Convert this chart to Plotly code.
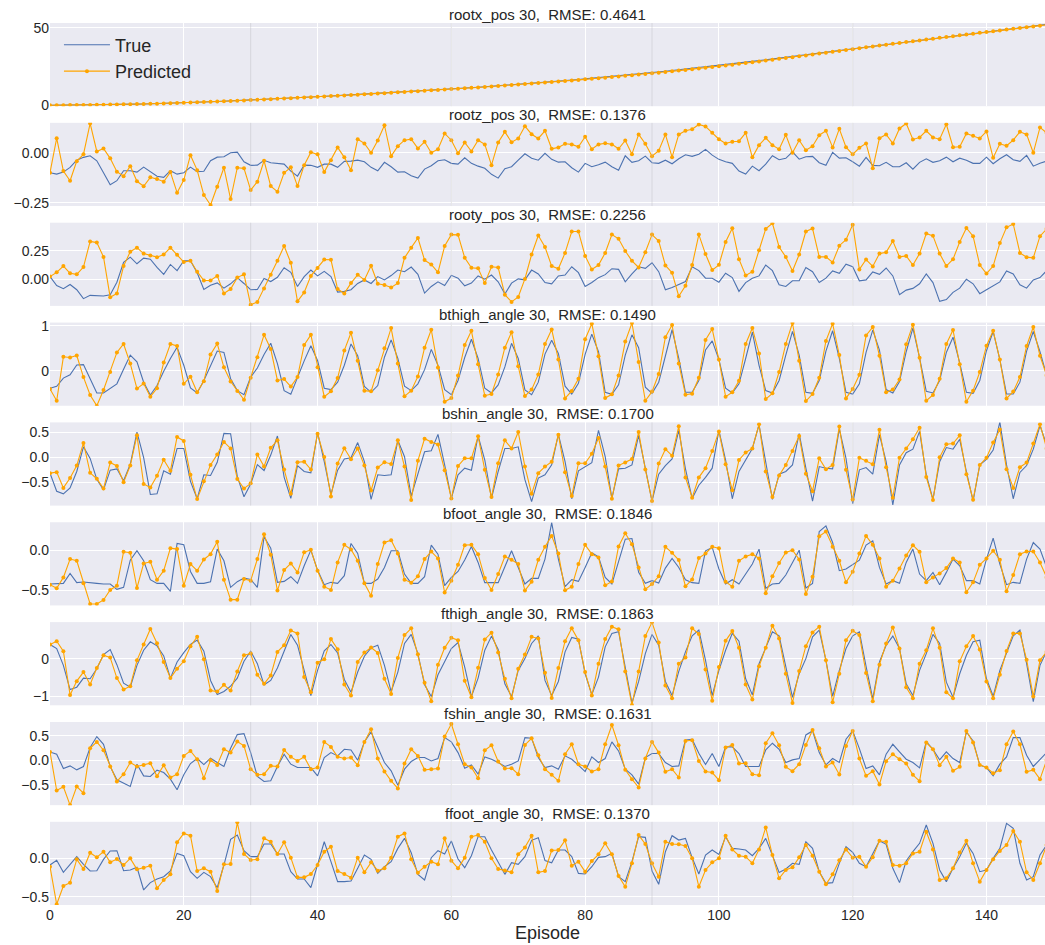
import plotly.graph_objects as go
from plotly.subplots import make_subplots

# ---------------- data ----------------
episodes = list(range(150))

variable_names = ["rootx_pos", "rootz_pos", "rooty_pos", "bthigh_angle", "bshin_angle",
                  "bfoot_angle", "fthigh_angle", "fshin_angle", "ffoot_angle"]
horizon_label = "30"
rmse_values = ["0.4641", "0.1376", "0.2256", "0.1490", "0.1700",
               "0.1846", "0.1863", "0.1631", "0.1370"]
episode_boundaries = [30, 60, 90, 120]

rootx_true = [
    0, 0.03, 0.06, 0.1, 0.14, 0.19, 0.24, 0.3, 0.36, 0.43, 0.5, 0.58, 0.66, 0.75, 0.85, 0.95, 1.06, 1.18, 1.31, 1.45,
    1.6, 1.76, 1.92, 2.09, 2.26, 2.44, 2.62, 2.8, 2.99, 3.18, 3.37, 3.57, 3.77, 3.97, 4.18, 4.39, 4.61, 4.83, 5.05, 5.28,
    5.51, 5.74, 5.97, 6.2, 6.44, 6.68, 6.92, 7.16, 7.41, 7.66, 7.91, 8.16, 8.41, 8.67, 8.93, 9.19, 9.45, 9.72, 9.99, 10.26,
    10.53, 10.81, 11.09, 11.38, 11.67, 11.97, 12.27, 12.58, 12.89, 13.21, 13.53, 13.86, 14.19, 14.53, 14.87, 15.22, 15.57, 15.93, 16.29, 16.66,
    17.03, 17.41, 17.8, 18.19, 18.59, 19.0, 19.41, 19.83, 20.25, 20.68, 21.12, 21.56, 22.01, 22.46, 22.92, 23.38, 23.85, 24.32, 24.8, 25.28,
    25.76, 26.26, 26.77, 27.28, 27.8, 28.32, 28.85, 29.38, 29.92, 30.46, 31.01, 31.56, 32.11, 32.67, 33.23, 33.8, 34.37, 34.94, 35.51, 36.08,
    36.65, 37.22, 37.79, 38.36, 38.92, 39.48, 40.04, 40.6, 41.16, 41.71, 42.26, 42.81, 43.36, 43.91, 44.45, 44.99, 45.53, 46.07, 46.61, 47.14,
    47.67, 48.19, 48.71, 49.23, 49.74, 50.25, 50.76, 51.27, 51.77, 52.27]
rootx_pred = [
    0, 0.03, 0.06, 0.1, 0.14, 0.19, 0.24, 0.3, 0.36, 0.42, 0.49, 0.57, 0.65, 0.74, 0.84, 0.94, 1.05, 1.17, 1.3, 1.44,
    1.59, 1.74, 1.9, 2.06, 2.23, 2.41, 2.59, 2.77, 2.96, 3.15, 3.34, 3.54, 3.74, 3.94, 4.15, 4.36, 4.57, 4.79, 5.01, 5.23,
    5.46, 5.69, 5.92, 6.15, 6.38, 6.62, 6.86, 7.1, 7.34, 7.59, 7.84, 8.09, 8.34, 8.59, 8.85, 9.11, 9.37, 9.63, 9.9, 10.17,
    10.44, 10.71, 10.99, 11.27, 11.56, 11.85, 12.14, 12.44, 12.74, 13.05, 13.36, 13.68, 14.0, 14.33, 14.66, 15.0, 15.34, 15.69, 16.04, 16.4,
    16.76, 17.12, 17.49, 17.87, 18.25, 18.64, 19.03, 19.43, 19.84, 20.25, 20.67, 21.1, 21.53, 21.97, 22.42, 22.87, 23.33, 23.8, 24.27, 24.75,
    25.24, 25.74, 26.25, 26.77, 27.29, 27.82, 28.36, 28.9, 29.45, 30.0, 30.56, 31.12, 31.68, 32.25, 32.82, 33.4, 33.98, 34.56, 35.14, 35.72,
    36.3, 36.88, 37.46, 38.03, 38.6, 39.17, 39.73, 40.29, 40.85, 41.41, 41.96, 42.51, 43.06, 43.61, 44.15, 44.69, 45.23, 45.77, 46.31, 46.84,
    47.37, 47.9, 48.42, 48.94, 49.46, 49.97, 50.48, 50.99, 51.49, 51.99]

rootz_true = [
    -0.10, -0.107, -0.097, -0.073, -0.037, -0.023, -0.015, -0.04, -0.10, -0.16,
    -0.14, -0.09, -0.09, -0.097, -0.072, -0.095, -0.118, -0.123, -0.09, -0.107,
    -0.10, -0.072, -0.095, -0.093, -0.04, -0.022, -0.02, 0.0, 0.003, -0.045,
    -0.063, -0.062, -0.038, -0.05, -0.052, -0.057, -0.092, -0.117, -0.062, -0.063,
    -0.073, -0.057, -0.057, -0.073, -0.043, -0.042, -0.037, -0.045, -0.073, -0.09,
    -0.048, -0.07, -0.097, -0.095, -0.115, -0.127, -0.082, -0.065, -0.04, -0.035,
    -0.053, -0.057, -0.025, -0.053, -0.067, -0.078, -0.108, -0.127, -0.08, -0.07,
    -0.037, -0.005, -0.027, -0.037, -0.003, -0.033, -0.047, -0.045, -0.075, -0.097,
    -0.053, -0.07, -0.06, -0.047, -0.07, -0.088, -0.015, -0.048, -0.04, -0.017,
    -0.05, -0.053, -0.037, -0.055, -0.03, -0.01, -0.018, -0.007, 0.017,
    -0.012, -0.033, -0.045, -0.053, -0.092, -0.107, -0.067, -0.09, -0.057, -0.015,
    -0.035, -0.028, 0.005, -0.032, -0.02, -0.018, -0.05, -0.063, 0.002, -0.027,
    -0.025, -0.045, -0.067, -0.023, -0.063, -0.065, -0.048, -0.07, -0.07, -0.05,
    -0.082, -0.048, -0.03, -0.048, -0.04, -0.022, -0.045, -0.027, -0.037, -0.053,
    -0.053, -0.022, -0.055, -0.03, -0.01, -0.035, -0.043, -0.013, -0.067, -0.053, -0.042]
rootz_pred = [
    -0.10, 0.073, -0.092, -0.14, -0.042, -0.008, 0.147, 0.007, 0.022, -0.028,
    -0.095, -0.118, -0.067, -0.143, -0.168, -0.123, -0.132, -0.145, -0.097, -0.20,
    -0.137, -0.012, -0.087, -0.212, -0.262, -0.17, -0.075, -0.232, -0.075, -0.078,
    -0.187, -0.145, -0.04, -0.167, -0.195, -0.10, -0.073, -0.167, -0.062, 0.003,
    -0.008, -0.097, -0.037, 0.027, -0.023, -0.087, 0.068, 0.047, 0.0, 0.062,
    0.138, -0.017, 0.033, 0.063, 0.068, 0.022, 0.055, 0.0, 0.018, 0.097,
    0.063, -0.003, 0.052, 0.007, 0.063, 0.042, -0.062, 0.052, 0.105, 0.053,
    0.072, 0.133, 0.093, 0.072, 0.11, 0.02, 0.027, 0.045, 0.042, 0.03,
    0.08, 0.018, 0.042, 0.048, 0.042, 0.02, 0.062, -0.007, 0.092, 0.045,
    -0.017, 0.01, 0.092, -0.022, 0.092, 0.11, 0.118, 0.142, 0.132,
    0.10, 0.068, 0.047, 0.055, 0.058, 0.10, -0.023, 0.038, 0.075, 0.038,
    0.018, 0.09, 0.0, 0.063, 0.013, 0.033, 0.088, 0.11, 0.027, 0.12,
    0.028, -0.008, 0.025, 0.047, -0.078, 0.073, 0.092, 0.047, 0.122, 0.147,
    0.067, 0.077, 0.11, 0.077, 0.068, 0.143, 0.028, 0.03, 0.097, 0.085,
    0.072, 0.107, -0.025, 0.045, 0.035, 0.063, 0.105, 0.092, 0.0, 0.127, 0.10]

rooty_true = [
    0.023, -0.055, -0.083, -0.046, -0.092, -0.17, -0.141, -0.144, -0.147, -0.135,
    -0.026, 0.147, 0.193, 0.135, 0.184, 0.175, 0.103, 0.043, 0.129, 0.075,
    0.161, 0.161, 0.057, -0.089, -0.052, -0.032, -0.078, -0.04, 0.014, -0.037,
    -0.092, -0.089, 0.006, -0.02, 0.017, 0.10, 0.06, -0.063, 0.023, 0.08,
    0.029, 0.069, 0.023, -0.112, -0.106, -0.092, -0.037, -0.006, -0.037, 0.023,
    -0.006, 0.032, 0.08, 0.066, 0.106, 0.043, -0.121, -0.063, -0.023, -0.055,
    0.034, 0.009, -0.057, -0.034, 0.029, 0.0, 0.037, -0.023, -0.129, -0.034,
    0.003, -0.006, 0.08, 0.046, -0.029, -0.04, 0.029, 0.037, 0.109, 0.057,
    -0.063, -0.029, 0.014, 0.04, 0.092, 0.086, -0.023, 0.046, 0.109, 0.095,
    0.144, 0.066, -0.092, -0.072, -0.046, -0.02, 0.109, 0.075, 0.009,
    0.009, -0.026, 0.052, 0.014, -0.106, -0.029, 0.009, 0.029, 0.124, 0.075,
    -0.049, -0.063, -0.014, -0.014, 0.103, 0.066, -0.029, 0.009, 0.072, 0.052,
    0.132, 0.109, -0.014, -0.006, 0.063, 0.043, 0.098, 0.029, -0.135, -0.095,
    -0.08, -0.04, 0.046, -0.029, -0.193, -0.178, -0.115, -0.078, 0.0, -0.04,
    -0.126, -0.092, -0.055, -0.023, 0.072, 0.046, -0.049, -0.078, -0.006, 0.014, 0.075]
rooty_pred = [
    0.023, 0.06, 0.115, 0.052, 0.043, 0.106, 0.33, 0.32, 0.195, -0.158,
    -0.124, 0.115, 0.241, 0.276, 0.224, 0.207, 0.193, 0.216, 0.276, 0.213,
    0.15, 0.161, 0.066, -0.011, -0.011, 0.029, -0.124, -0.086, 0.014, 0.043,
    -0.224, -0.198, -0.08, 0.04, 0.161, 0.29, 0.144, -0.193, -0.115, 0.029,
    0.098, 0.172, 0.17, -0.086, -0.124, -0.034, 0.04, -0.006, 0.118, -0.04,
    -0.05, -0.072, -0.034, 0.187, 0.276, 0.36, 0.167, 0.129, 0.06, 0.29,
    0.39, 0.388, 0.187, 0.1, 0.095, -0.034, 0.109, 0.103, -0.135, -0.198,
    -0.155, 0.003, 0.216, 0.382, 0.282, 0.115, 0.092, 0.23, 0.417, 0.417,
    0.204, 0.086, 0.124, 0.23, 0.39, 0.353, 0.247, 0.161, 0.103, 0.236,
    0.39, 0.333, 0.121, 0.057, -0.149, -0.057, 0.124, 0.39, 0.22,
    0.08, 0.126, 0.325, 0.445, 0.175, 0.032, 0.066, 0.253, 0.44, 0.489,
    0.282, 0.195, 0.072, 0.216, 0.417, 0.443, 0.195, 0.195, 0.147, 0.293,
    0.345, 0.477, 0.086, 0.172, 0.112, 0.224, 0.236, 0.333, 0.195, 0.204,
    0.124, 0.224, 0.399, 0.379, 0.224, 0.115, 0.175, 0.325, 0.448, 0.376,
    0.124, 0.049, 0.115, 0.316, 0.454, 0.483, 0.23, 0.193, 0.187, 0.376, 0.44]

bthigh_true = [
    -0.391, -0.346, -0.165, -0.09, 0.128, 0.135, -0.18, -0.496, -0.496, -0.391,
    -0.293, 0.03, 0.346, 0.195, -0.256, -0.541, -0.331, -0.015, 0.271, 0.519,
    0.12, -0.383, -0.496, -0.218, 0.12, 0.436, 0.406, -0.18, -0.444, -0.534,
    -0.143, 0.06, 0.361, 0.609, 0.158, -0.444, -0.526, -0.143, 0.218, 0.556,
    0.226, -0.391, -0.421, -0.256, 0.12, 0.594, 0.331, -0.353, -0.481, -0.331,
    0.3, 0.684, 0.271, -0.346, -0.444, -0.293, 0.023, 0.474, 0.12, -0.421,
    -0.534, -0.218, 0.293, 0.699, 0.271, -0.391, -0.496, -0.316, 0.083, 0.609,
    0.271, -0.429, -0.534, -0.256, 0.368, 0.677, 0.383, -0.346, -0.519, -0.278,
    0.361, 0.812, 0.421, -0.481, -0.526, -0.316, 0.346, 0.797, 0.511, -0.368,
    -0.504, -0.256, 0.361, 0.91, 0.271, -0.481, -0.481, -0.218, 0.459,
    0.662, 0.248, -0.391, -0.496, -0.293, 0.271, 0.857, 0.12, -0.444, -0.496,
    -0.218, 0.346, 0.872, 0.346, -0.481, -0.504, -0.218, 0.436, 0.887, 0.271,
    -0.481, -0.519, -0.293, 0.406, 0.902, 0.459, -0.421, -0.496, -0.241, 0.421,
    0.947, 0.286, -0.459, -0.496, -0.218, 0.406, 0.744, 0.173, -0.481, -0.504,
    -0.218, 0.444, 0.872, 0.248, -0.519, -0.519, -0.256, 0.436, 0.872, 0.421, -0.105]
bthigh_pred = [
    -0.406, -0.669, 0.308, 0.293, 0.338, -0.143, -0.541, -0.782, -0.429, -0.03,
    0.406, 0.594, 0.158, -0.398, -0.286, -0.579, -0.391, 0.18, 0.594, 0.549,
    -0.293, -0.135, -0.481, -0.233, 0.361, 0.602, 0.075, -0.241, -0.451, -0.647,
    -0.158, 0.301, 0.797, 0.481, -0.218, -0.188, -0.353, -0.143, 0.571, 0.797,
    0.075, -0.579, -0.459, -0.165, 0.451, 0.842, 0.218, -0.444, -0.459, 0.008,
    0.5, 0.947, 0.158, -0.571, -0.444, -0.128, 0.511, 0.91, 0.068, -0.692,
    -0.609, -0.105, 0.571, 0.887, 0.143, -0.556, -0.519, -0.083, 0.511, 0.857,
    0.098, -0.564, -0.421, -0.083, 0.594, 0.917, 0.248, -0.617, -0.451, -0.18,
    0.699, 1.045, 0.323, -0.609, -0.526, -0.105, 0.647, 1.06, 0.195, -0.669,
    -0.466, -0.075, 0.744, 1.015, 0.158, -0.534, -0.511, -0.158, 0.684,
    0.925, 0.248, -0.579, -0.481, -0.226, 0.594, 0.947, 0.383, -0.632, -0.504,
    -0.03, 0.594, 1.06, 0.218, -0.677, -0.519, -0.158, 0.662, 1.045, 0.346,
    -0.617, -0.406, -0.09, 0.782, 0.97, 0.331, -0.481, -0.421, -0.195, 0.586,
    1.023, 0.286, -0.669, -0.541, -0.18, 0.594, 0.902, 0.143, -0.692, -0.444,
    -0.03, 0.556, 0.887, 0.248, -0.617, -0.466, -0.143, 0.549, 0.97, 0.331, -0.105]

bshin_true = [
    -0.316, -0.678, -0.73, -0.612, -0.283, 0.211, -0.02, -0.441, -0.651, -0.257,
    -0.23, -0.467, -0.138, 0.507, -0.007, -0.743, -0.73, -0.27, -0.336, 0.178,
    0.178, -0.48, -0.829, -0.349, -0.362, -0.099, 0.48, 0.474, -0.382, -0.789,
    -0.533, -0.145, -0.263, 0.046, 0.428, -0.395, -0.822, -0.164, -0.283, -0.309,
    0.493, -0.086, -0.743, -0.257, -0.033, -0.007, 0.296, -0.086, -0.842, -0.349,
    -0.362, -0.349, 0.342, 0.013, -0.776, -0.349, 0.112, 0.132, 0.461, -0.151,
    -0.822, -0.349, -0.217, -0.257, 0.428, -0.053, -0.822, -0.283, 0.178, 0.178,
    0.211, -0.447, -0.888, -0.414, -0.349, -0.151, 0.461, -0.086, -0.829, -0.27,
    -0.184, -0.105, 0.539, 0.013, -0.822, -0.23, -0.217, -0.151, 0.441, -0.184,
    -0.875, -0.336, -0.164, -0.033, 0.539, -0.23, -0.822, -0.559, -0.401,
    -0.217, 0.539, -0.053, -0.829, -0.283, -0.066, 0.178, 0.651, -0.086, -0.842,
    -0.336, -0.283, -0.151, 0.474, -0.217, -0.875, -0.184, -0.217, -0.23, 0.572,
    -0.02, -0.928, -0.25, -0.204, -0.336, 0.454, -0.086, -0.954, -0.151, 0.092,
    0.164, 0.52, -0.349, -0.842, -0.086, 0.197, 0.164, 0.362, -0.283, -0.875,
    -0.151, -0.039, 0.145, 0.704, -0.151, -0.829, -0.303, -0.164, 0.164, 0.638, 0.243]
bshin_pred = [
    -0.316, -0.296, -0.612, -0.414, -0.164, 0.289, -0.309, -0.428, -0.625, -0.105,
    -0.171, -0.5, -0.164, 0.441, -0.533, -0.605, -0.368, -0.046, -0.27, 0.408,
    0.329, -0.349, -0.836, -0.48, -0.151, 0.059, 0.309, 0.178, -0.434, -0.625,
    -0.52, 0.059, -0.184, 0.191, 0.342, -0.243, -0.73, -0.099, -0.086, -0.243,
    0.474, 0.007, -0.783, -0.125, 0.184, -0.039, 0.178, -0.164, -0.664, -0.204,
    -0.099, -0.132, 0.342, -0.184, -0.855, -0.066, 0.375, 0.309, 0.257, -0.257,
    -0.822, -0.171, -0.02, -0.02, 0.421, -0.25, -0.796, -0.118, 0.342, 0.178,
    0.507, -0.184, -0.73, -0.316, -0.184, -0.086, 0.454, -0.296, -0.776, -0.118,
    -0.118, 0.072, 0.388, -0.184, -0.829, -0.164, -0.105, -0.033, 0.507, -0.243,
    -0.875, -0.125, 0.164, 0.033, 0.625, -0.401, -0.809, -0.401, -0.217,
    0.125, 0.52, -0.138, -0.658, -0.053, 0.099, 0.178, 0.664, -0.283, -0.796,
    -0.362, -0.151, 0.125, 0.428, -0.329, -0.678, -0.02, -0.237, -0.151, 0.618,
    -0.25, -0.842, -0.007, -0.066, -0.138, 0.553, -0.197, -0.809, -0.007, 0.178,
    0.362, 0.592, -0.395, -0.855, 0.0, 0.263, 0.276, 0.441, -0.336, -0.849,
    -0.151, -0.007, 0.296, 0.559, -0.237, -0.612, -0.197, -0.105, 0.276, 0.664, 0.178]

bfoot_true = [
    -0.421, -0.413, -0.413, -0.288, -0.404, -0.396, -0.4, -0.413, -0.421, -0.421,
    -0.488, -0.463, -0.121, -0.004, -0.129, -0.367, -0.413, -0.413, -0.513, 0.088,
    0.071, -0.263, -0.413, -0.413, -0.392, 0.017, -0.129, -0.463, -0.392, -0.346,
    -0.363, -0.463, 0.171, 0.029, -0.4, -0.388, -0.329, -0.413, -0.192, 0.004,
    -0.246, -0.429, -0.4, -0.413, -0.317, 0.088, -0.038, -0.413, -0.413, -0.358,
    -0.213, -0.004, -0.004, -0.296, -0.413, -0.413, -0.329, 0.067, -0.046, -0.442,
    -0.338, -0.263, -0.121, 0.05, -0.15, -0.404, -0.404, -0.404, -0.204, -0.004,
    -0.213, -0.421, -0.35, -0.35, -0.108, 0.35, -0.108, -0.454, -0.367, -0.388,
    -0.213, -0.029, -0.079, -0.338, -0.421, -0.138, 0.142, 0.15, -0.275, -0.413,
    -0.379, -0.408, -0.221, -0.1, -0.213, -0.367, -0.404, -0.413, -0.004,
    0.038, -0.233, -0.421, -0.367, -0.421, -0.288, -0.171, 0.017, -0.475, -0.421,
    -0.413, -0.308, -0.15, 0.004, -0.471, -0.413, 0.238, 0.308, 0.1, -0.254,
    -0.233, -0.179, -0.121, 0.067, 0.121, -0.213, -0.421, -0.379, -0.413, -0.15,
    0.017, -0.296, -0.379, -0.275, -0.429, -0.275, -0.108, -0.192, -0.379, -0.379,
    -0.421, -0.108, 0.154, -0.171, -0.429, -0.4, -0.413, -0.108, 0.1, 0.017, -0.213]
bfoot_pred = [
    -0.429, -0.475, -0.338, -0.108, -0.129, -0.413, -0.671, -0.671, -0.621, -0.496,
    -0.442, -0.017, -0.029, -0.471, -0.163, -0.142, -0.367, -0.254, 0.029, 0.017,
    -0.442, -0.171, -0.254, -0.113, -0.046, 0.108, -0.367, -0.617, -0.617, -0.358,
    -0.379, -0.108, 0.204, -0.054, -0.504, -0.246, -0.163, -0.275, -0.021, 0.008,
    -0.254, -0.454, -0.496, -0.15, 0.071, 0.013, -0.129, -0.413, -0.567, -0.171,
    0.1, 0.129, -0.038, -0.367, -0.404, -0.325, -0.108, -0.013, -0.1, -0.529,
    -0.379, -0.179, 0.067, 0.071, -0.046, -0.346, -0.496, -0.296, -0.075, -0.117,
    -0.171, -0.504, -0.392, -0.117, 0.046, 0.183, -0.038, -0.5, -0.454, -0.171,
    0.071, -0.046, -0.088, -0.438, -0.388, 0.05, 0.217, 0.079, -0.213, -0.488,
    -0.421, -0.325, 0.046, -0.029, -0.121, -0.45, -0.363, -0.096, -0.038,
    0.046, 0.029, -0.392, -0.454, -0.129, -0.075, -0.046, -0.1, -0.538, -0.325,
    -0.158, -0.025, 0.004, -0.113, -0.546, -0.329, 0.179, 0.238, 0.046, -0.129,
    -0.4, -0.267, -0.038, 0.183, 0.071, -0.1, -0.454, -0.379, -0.225, -0.063,
    0.067, -0.017, -0.4, -0.338, -0.288, -0.221, -0.1, -0.15, -0.525, -0.4,
    -0.179, -0.1, -0.004, -0.117, -0.513, -0.308, -0.046, -0.013, -0.013, -0.15, -0.338]

fthigh_true = [
    0.375, 0.268, -0.179, -0.821, -0.759, -0.518, -0.536, -0.268, 0.107, 0.241,
    -0.161, -0.652, -0.759, -0.179, 0.223, 0.446, 0.339, 0.071, -0.518, -0.089,
    0.161, 0.375, 0.491, 0.196, -0.58, -0.955, -0.875, -0.732, -0.518, -0.071,
    0.196, -0.134, -0.696, -0.58, -0.25, 0.205, 0.643, 0.357, -0.339, -0.982,
    -0.313, 0.205, 0.375, 0.152, -0.554, -0.893, -0.357, 0.063, 0.286, 0.357,
    -0.179, -0.875, -0.357, 0.402, 0.643, 0.134, -0.696, -1.009, -0.429, -0.071,
    0.268, 0.429, -0.223, -1.009, -0.518, 0.223, 0.598, 0.241, -0.67, -1.009,
    -0.313, 0.0, 0.402, 0.607, -0.58, -0.982, -0.607, 0.179, 0.563, 0.518,
    -0.402, -0.955, -0.491, 0.313, 0.67, 0.714, -0.268, -1.179, -0.607, 0.134,
    0.643, 0.357, -0.607, -0.982, -0.339, 0.179, 0.607, 0.759, -0.045,
    -0.982, -0.313, 0.223, 0.67, 0.464, -0.536, -0.964, -0.134, 0.268, 0.714,
    0.607, -0.25, -1.027, -0.402, 0.0, 0.58, 0.759, -0.045, -1.0, -0.313,
    0.268, 0.607, 0.714, -0.205, -1.071, -0.089, 0.357, 0.598, 0.268, -0.67,
    -0.982, -0.313, 0.134, 0.643, 0.402, -0.625, -1.027, -0.402, 0.089, 0.446,
    0.491, -0.536, -1.0, -0.313, 0.134, 0.607, 0.759, -0.134, -1.143, -0.179, 0.196]
fthigh_pred = [
    0.375, 0.464, 0.196, -0.964, -0.598, -0.357, -0.688, -0.25, 0.089, 0.027,
    -0.518, -0.821, -0.732, -0.045, 0.375, 0.786, 0.411, -0.089, -0.518, -0.268,
    -0.071, 0.33, 0.58, -0.018, -0.848, -0.875, -0.696, -0.848, -0.339, 0.089,
    0.134, -0.429, -0.67, -0.446, 0.179, 0.357, 0.75, 0.67, -0.491, -0.893,
    -0.107, -0.018, 0.518, 0.25, -0.688, -0.982, -0.089, 0.161, 0.295, 0.152,
    -0.536, -0.938, 0.018, 0.625, 0.804, 0.116, -0.643, -1.134, -0.161, 0.286,
    0.554, 0.491, -0.589, -1.027, -0.241, 0.509, 0.688, 0.161, -0.536, -1.054,
    -0.268, 0.107, 0.58, 0.536, -0.375, -1.045, -0.25, 0.464, 0.804, 0.491,
    -0.357, -0.982, -0.134, 0.518, 0.848, 0.777, -0.339, -1.232, -0.339, 0.598,
    0.964, 0.429, -0.714, -1.054, -0.134, 0.027, 0.804, 0.652, -0.286,
    -1.116, -0.223, 0.473, 0.732, 0.286, -0.688, -1.089, -0.205, 0.286, 0.875,
    0.536, -0.402, -1.179, -0.33, 0.33, 0.696, 0.848, -0.045, -1.161, -0.402,
    0.491, 0.741, 0.625, -0.384, -1.134, -0.161, 0.402, 0.83, 0.268, -0.759,
    -1.054, -0.134, 0.223, 0.804, 0.286, -0.893, -1.054, -0.071, 0.33, 0.598,
    0.241, -0.607, -1.054, -0.429, 0.205, 0.67, 0.67, -0.027, -1.009, -0.045, 0.179]

fshin_true = [
    0.169, 0.122, -0.169, -0.115, -0.196, -0.128, 0.257, 0.48, 0.324, -0.128,
    -0.399, -0.473, -0.534, -0.081, -0.318, -0.331, -0.203, -0.25, -0.385, -0.601,
    -0.297, -0.068, 0.034, -0.088, 0.041, -0.047, -0.128, 0.243, 0.52, 0.541,
    0.155, -0.331, -0.432, -0.419, -0.128, 0.122, -0.081, -0.149, -0.149, -0.149,
    -0.318, 0.054, 0.155, 0.088, 0.223, 0.209, 0.0, 0.372, 0.574, 0.277,
    -0.047, -0.216, -0.507, -0.182, -0.027, 0.054, 0.054, -0.014, 0.034, 0.459,
    0.372, 0.155, -0.162, -0.095, -0.284, 0.068, 0.02, -0.047, -0.128, -0.081,
    -0.014, 0.459, 0.446, 0.054, -0.149, -0.115, -0.182, 0.088, 0.02, -0.101,
    -0.23, 0.068, -0.047, 0.034, 0.372, 0.189, -0.182, -0.297, -0.486, 0.054,
    0.135, 0.135, -0.047, -0.128, -0.115, 0.412, 0.426, 0.142, -0.088,
    0.135, -0.128, 0.27, 0.27, 0.135, -0.128, -0.128, -0.128, 0.209, 0.345,
    0.223, -0.047, 0.007, 0.034, 0.514, 0.595, 0.155, -0.095, 0.034, -0.047,
    0.426, 0.595, 0.236, -0.169, -0.115, -0.297, 0.122, 0.324, 0.169, 0.02,
    -0.047, -0.155, 0.378, 0.223, 0.007, 0.169, 0.034, -0.047, 0.574, 0.392,
    -0.101, -0.149, -0.318, -0.081, 0.068, 0.459, 0.459, 0.101, -0.128, 0.007, 0.155]
fshin_pred = [
    0.169, -0.615, -0.541, -0.912, -0.534, -0.669, 0.243, 0.372, 0.203, -0.128,
    -0.432, -0.284, -0.047, -0.128, -0.095, -0.061, -0.324, -0.101, -0.351, -0.284,
    0.088, 0.189, 0.02, -0.365, 0.0, -0.095, 0.223, 0.155, 0.378, 0.291,
    -0.182, -0.297, -0.284, -0.115, -0.128, 0.209, 0.068, -0.014, 0.068, -0.182,
    -0.149, 0.372, 0.27, 0.068, 0.034, 0.054, -0.101, 0.372, 0.628, 0.034,
    -0.23, -0.419, -0.574, -0.068, 0.223, 0.088, -0.196, -0.182, -0.169, 0.48,
    0.736, 0.324, -0.081, -0.149, -0.365, 0.203, 0.304, -0.027, -0.169, -0.162,
    -0.284, 0.311, 0.446, 0.101, -0.182, -0.297, -0.419, 0.122, 0.324, -0.081,
    -0.128, -0.23, -0.182, 0.324, 0.716, 0.304, -0.196, -0.385, -0.554, 0.034,
    0.372, 0.155, -0.236, -0.182, -0.351, 0.392, 0.405, -0.014, -0.23,
    -0.25, -0.405, 0.257, 0.311, -0.068, -0.061, -0.284, -0.304, 0.345, 0.547,
    0.304, -0.135, -0.223, -0.081, 0.311, 0.615, 0.243, -0.128, -0.047, -0.291,
    0.291, 0.595, 0.034, -0.318, -0.223, -0.493, -0.02, 0.122, 0.02, -0.068,
    -0.297, -0.426, 0.358, 0.223, -0.101, 0.068, -0.216, -0.135, 0.595, 0.358,
    -0.095, -0.149, -0.264, -0.203, 0.324, 0.581, 0.324, -0.236, -0.196, -0.385, 0.0]

ffoot_true = [
    -0.087, -0.026, -0.183, -0.087, 0.022, -0.078, -0.165, -0.161, -0.013, 0.096,
    0.1, -0.161, -0.152, -0.117, -0.413, -0.317, -0.27, -0.239, -0.165, 0.065,
    0.035, -0.174, -0.261, -0.183, -0.239, -0.383, -0.087, 0.248, 0.304, 0.1,
    0.022, 0.022, 0.187, 0.187, 0.057, 0.057, -0.174, -0.27, -0.27, -0.383,
    -0.096, 0.217, -0.043, -0.304, -0.304, -0.296, -0.13, 0.043, -0.013, -0.196,
    -0.109, -0.043, 0.13, 0.261, 0.074, -0.209, -0.283, 0.009, 0.1, 0.057,
    0.226, -0.009, -0.122, 0.035, 0.283, 0.283, 0.109, -0.043, -0.209, -0.057,
    -0.078, 0.022, 0.235, 0.27, -0.03, -0.057, 0.109, 0.109, 0.022, -0.196,
    -0.204, -0.109, 0.013, 0.022, 0.065, -0.239, -0.304, -0.043, 0.283, 0.274,
    -0.165, -0.339, 0.087, 0.296, 0.239, 0.261, 0.009, -0.204, 0.043,
    0.109, 0.052, 0.283, 0.13, 0.122, 0.109, 0.035, 0.13, 0.261, 0.043,
    -0.183, -0.139, -0.065, -0.078, 0.217, 0.13, -0.174, -0.326, -0.317, -0.065,
    0.152, 0.078, -0.065, -0.109, 0.065, 0.23, 0.183, -0.13, -0.317, -0.035,
    0.087, 0.196, 0.435, 0.196, -0.152, -0.304, -0.13, 0.022, 0.196, 0.065,
    -0.174, -0.152, 0.0, 0.13, 0.457, 0.391, -0.065, -0.283, -0.239, 0.043, 0.174]
ffoot_pred = [
    -0.109, -0.6, -0.361, -0.317, -0.013, -0.139, 0.074, 0.013, 0.087, -0.052,
    -0.009, -0.087, 0.0, -0.143, -0.122, -0.096, -0.391, -0.283, -0.209, 0.209,
    0.326, 0.296, -0.165, -0.13, -0.174, -0.426, -0.078, -0.074, 0.47, 0.057,
    -0.022, -0.013, 0.261, 0.217, 0.057, 0.209, 0.009, -0.248, -0.248, -0.204,
    -0.087, 0.087, 0.152, -0.165, -0.204, -0.252, 0.009, -0.183, -0.052, -0.161,
    -0.13, 0.009, 0.283, 0.326, -0.013, -0.187, -0.109, -0.043, -0.078, 0.261,
    -0.03, -0.13, 0.009, 0.283, 0.304, 0.217, 0.0, -0.139, -0.157, -0.183,
    0.052, 0.143, 0.296, -0.183, -0.165, 0.104, 0.109, 0.235, -0.096, -0.043,
    -0.174, -0.035, 0.052, 0.196, 0.052, -0.23, -0.37, -0.065, 0.304, 0.187,
    -0.065, -0.239, 0.217, 0.187, 0.183, 0.161, 0.0, -0.37, -0.152,
    -0.052, 0.0, 0.296, 0.117, 0.035, 0.022, -0.065, 0.117, 0.404, 0.043,
    -0.261, -0.152, -0.117, 0.013, 0.174, 0.035, -0.174, -0.339, -0.209, -0.026,
    0.117, 0.009, 0.022, -0.109, 0.013, 0.23, 0.217, -0.087, -0.096, -0.065,
    0.065, 0.087, 0.348, 0.117, -0.283, -0.261, -0.13, 0.078, 0.23, -0.065,
    -0.304, -0.152, -0.013, 0.096, 0.174, 0.357, 0.217, -0.183, -0.283, -0.065, 0.174]

true_series = [rootx_true, rootz_true, rooty_true, bthigh_true, bshin_true,
               bfoot_true, fthigh_true, fshin_true, ffoot_true]
pred_series = [rootx_pred, rootz_pred, rooty_pred, bthigh_pred, bshin_pred,
               bfoot_pred, fthigh_pred, fshin_pred, ffoot_pred]

y_tick_values = [[0, 50], [-0.25, 0.0], [0.0, 0.25], [0, 1], [-0.5, 0.0, 0.5],
                 [-0.5, 0.0], [-1, 0], [-0.5, 0.0, 0.5], [-0.5, 0.0]]
y_tick_formats = ["d", ".2f", ".2f", "d", ".1f", ".1f", "d", ".1f", ".1f"]
y_ranges = [[-0.6, 53.2], [-0.267, 0.15], [-0.233, 0.494], [-0.78, 1.07], [-0.966, 0.70],
            [-0.69, 0.354], [-1.24, 0.97], [-0.913, 0.777], [-0.609, 0.477]]
x_range = [0, 148.75]

for s in true_series + pred_series:
    assert len(s) == len(episodes), len(s)

# ---------------- figure ----------------
TRUE_COLOR = "#4C72B0"
PRED_COLOR = "#FFA500"
FONT = "Liberation Sans, Arial, sans-serif"
TEXT = "#262626"

titles = [f"{n} {horizon_label},  RMSE: {r}" for n, r in zip(variable_names, rmse_values)]
n_rows = len(variable_names)
fig = make_subplots(rows=n_rows, cols=1, shared_xaxes=True,
                    vertical_spacing=0.0189, subplot_titles=titles)

for k in range(n_rows):
    row = k + 1
    fig.add_trace(go.Scatter(x=episodes, y=true_series[k], mode="lines", name="True",
                             line=dict(color=TRUE_COLOR, width=1.1),
                             showlegend=(k == 0)), row=row, col=1)
    fig.add_trace(go.Scatter(x=episodes, y=pred_series[k], mode="lines+markers", name="Predicted",
                             line=dict(color=PRED_COLOR, width=1.1),
                             marker=dict(color=PRED_COLOR, size=4),
                             showlegend=(k == 0)), row=row, col=1)
    fig.update_yaxes(row=row, col=1, range=y_ranges[k], tickvals=y_tick_values[k],
                     tickformat=y_tick_formats[k], showgrid=True, gridcolor="white",
                     gridwidth=1, zeroline=False, showline=False, ticks="", automargin=False,
                     tickfont=dict(family=FONT, size=14, color=TEXT))
    fig.update_xaxes(row=row, col=1, range=x_range, tick0=0, dtick=20, showgrid=True,
                     gridcolor="white", gridwidth=1, zeroline=False, showline=False, ticks="",
                     automargin=False, tickfont=dict(family=FONT, size=14, color=TEXT))
    axis_suffix = "" if row == 1 else str(row)
    for b in episode_boundaries:
        fig.add_shape(type="line", xref="x" + axis_suffix, yref="y" + axis_suffix + " domain",
                      x0=b, x1=b, y0=0, y1=1, layer="above",
                      line=dict(color="rgba(190,190,196,0.45)", width=1))

fig.update_xaxes(row=n_rows, col=1, title=dict(text="Episode", standoff=2,
                 font=dict(family=FONT, size=18, color=TEXT)))

for ann in fig.layout.annotations:
    ann.font = dict(family=FONT, size=15, color=TEXT)
    ann.yshift = -2

fig.update_layout(
    width=1045, height=945,
    margin=dict(l=50, r=0, t=22.7, b=40, autoexpand=False),
    paper_bgcolor="white", plot_bgcolor="#EAEAF2",
    font=dict(family=FONT, color=TEXT),
    legend=dict(x=0.009, y=0.996, xanchor="left", yanchor="top", itemwidth=46,
                bgcolor="rgba(0,0,0,0)", font=dict(family=FONT, size=18, color=TEXT),
                tracegroupgap=0),
    showlegend=True,
)

# remove the browser's default 8px body margin so the figure sits at the page origin
fig.write_html("out.html", config={"displayModeBar": False},
               post_script="document.body.style.margin='0px';")
